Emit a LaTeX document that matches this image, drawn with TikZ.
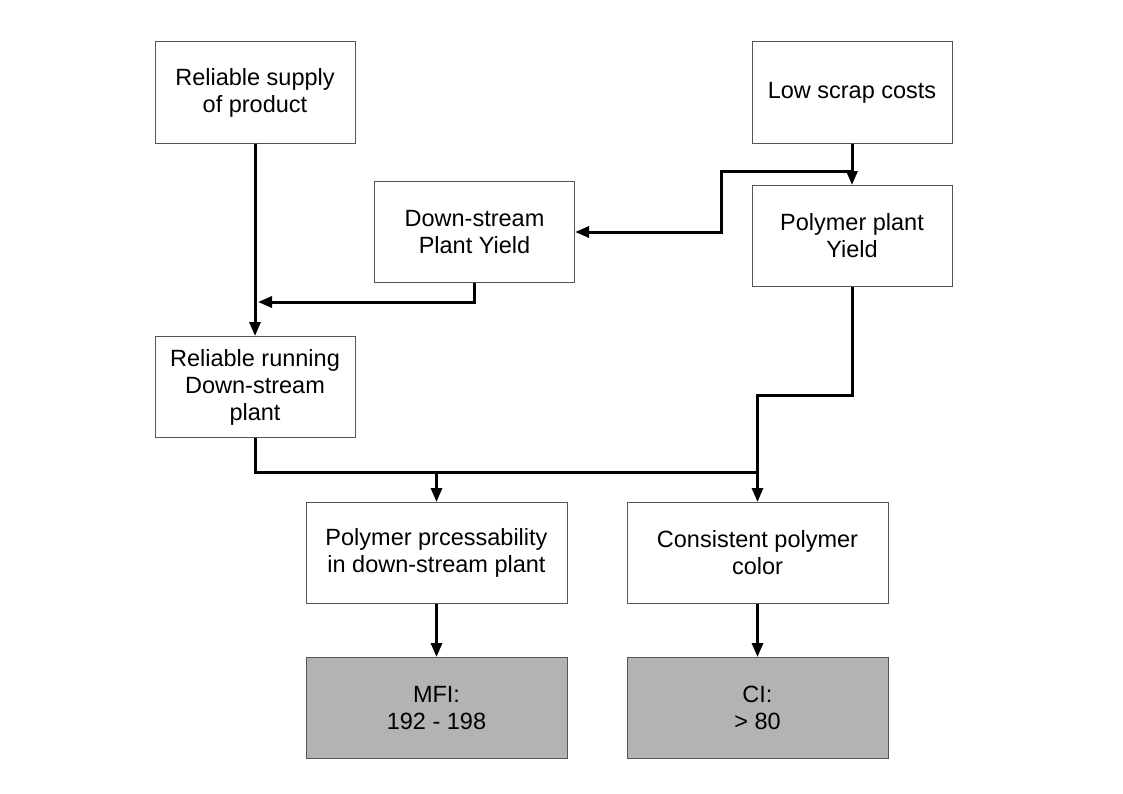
\documentclass[tikz,border=0pt]{standalone}
\usepackage{fontspec}
\setmainfont{Liberation Sans}
\usetikzlibrary{arrows.meta}
\definecolor{edgec}{HTML}{555555}
\definecolor{kpic}{HTML}{B3B3B3}
\begin{document}
\begin{tikzpicture}[x=1bp, y=-1bp, >={Triangle[length=14bp, width=11bp]},
          line width=3bp,
          box/.style={rectangle, draw=edgec, line width=1bp, fill=white,
            minimum width=200bp, minimum height=101bp, inner sep=0pt,
            align=center, font=\fontsize{23.5bp}{27bp}\selectfont},
          widebox/.style={box, minimum width=261bp},
          kpibox/.style={widebox, fill=kpic}]
        \useasboundingbox (0,0) rectangle (1123,794);
        % goals
        \node[box] (supply) at (255,92.5) {Reliable supply\\of product};
        \node[box] (scrap) at (852,92.5) {Low scrap costs};
        \node[box] (dsyield) at (474.5,232) {Down-stream\\Plant Yield};
        \node[box] (ppyield) at (852,236) {Polymer plant\\Yield};
        \node[box] (running) at (255,387) {Reliable running\\Down-stream\\plant};
        \node[widebox] (process) at (436.5,553) {Polymer prcessability\\in down-stream plant};
        \node[widebox] (color) at (757.5,553) {Consistent polymer\\color};
        % measures
        \node[kpibox] (mfi) at (436.5,708) {MFI:\\192 - 198};
        \node[kpibox] (ci) at (757.5,708) {CI:\\> 80};
        % joints
        \coordinate (j1) at (852,171);
        \coordinate (j2) at (258,302);
        \coordinate (j3) at (757.5,472);
        \draw[->] (supply) -- (running);
        \draw[->] (scrap) -- (ppyield);
        \draw[->] (j1) -- (721,171) |- (dsyield.east);
        \draw[->] (dsyield.south) |- (j2);
        \draw (running.south) |- (j3);
        \draw[->] (process.north |- j3) -- (process.north);
        \draw[->] (ppyield.south) -- (852,395) -| (color.north);
        \draw[->] (process) -- (mfi);
        \draw[->] (color) -- (ci);
      \end{tikzpicture}
\end{document}
